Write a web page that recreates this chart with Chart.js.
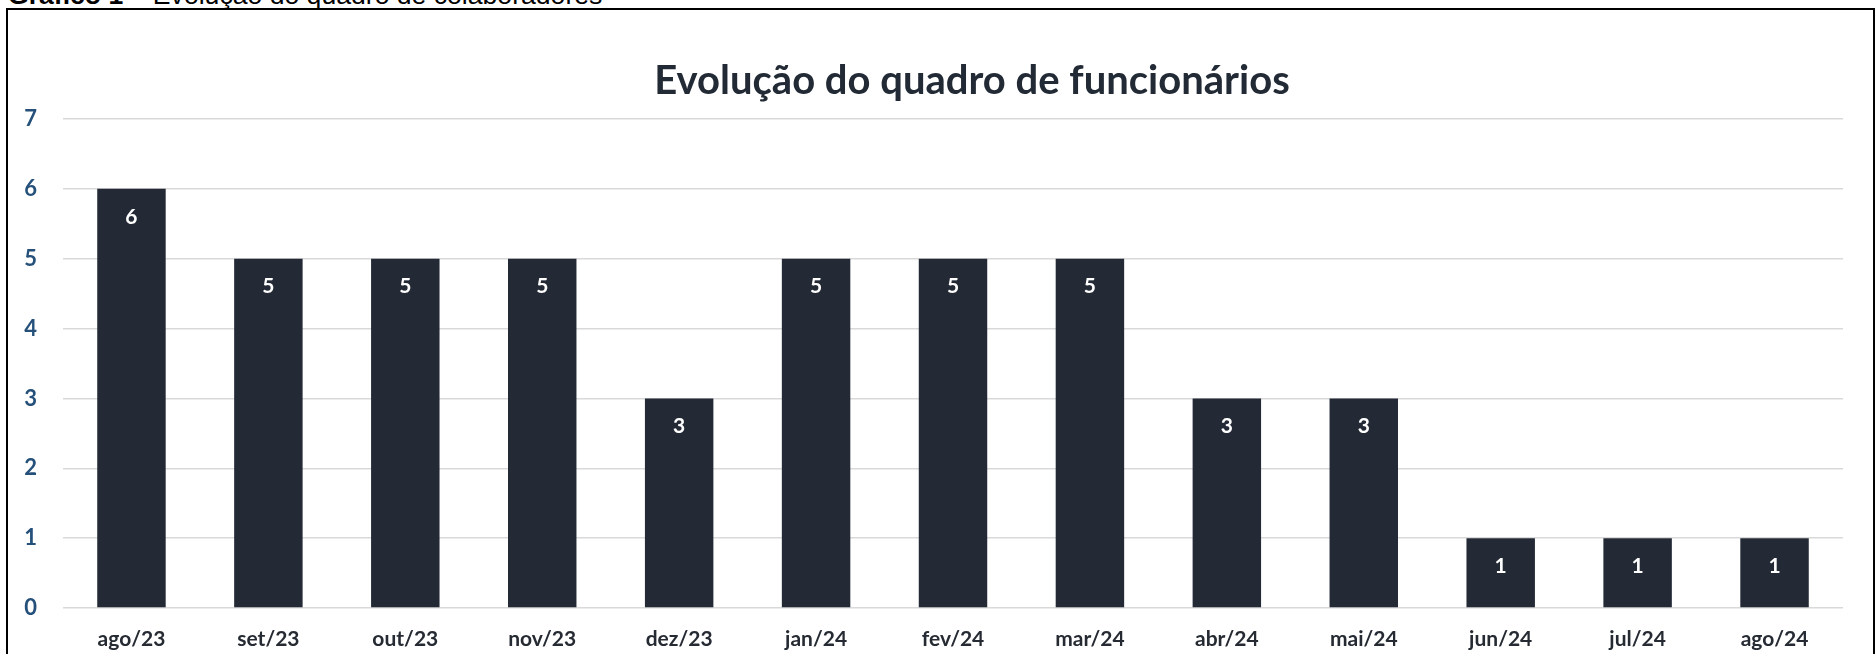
<!DOCTYPE html>
<html lang="pt-BR">
<head>
<meta charset="utf-8">
<title>Evolução do quadro de funcionários</title>
<script src="https://cdn.jsdelivr.net/npm/chart.js@4.4.1/dist/chart.umd.min.js"></script>
<style>
    html, body { margin: 0; padding: 0; background: #fff; overflow: hidden; }
    body { width: 1876px; height: 654px; position: relative; }
    .caption {
        position: absolute; left: 8px; top: -18px;
        font-family: "Liberation Sans", Arial, sans-serif;
        font-size: 26.6px; line-height: 27px; color: #000; white-space: nowrap;
    }
    .caption b { font-weight: bold; }
    .frame {
        position: absolute; left: 6px; top: 8px;
        width: 1865px; height: 700px;
        border: 2px solid #000;
    }
    .chart-wrap {
        position: absolute; left: 9px; top: 11px;
        width: 1864px; height: 643px;
    }
</style>
</head>
<body>
<div class="caption"><b>Gráfico 1</b> – Evolução do quadro de colaboradores</div>
<div class="frame"></div>
<div class="chart-wrap"><canvas id="staff-chart"></canvas></div>

<script>
// chart data
const months = ['ago/23', 'set/23', 'out/23', 'nov/23', 'dez/23', 'jan/24', 'fev/24',
                'mar/24', 'abr/24', 'mai/24', 'jun/24', 'jul/24', 'ago/24'];
const headcount = [6, 5, 5, 5, 3, 5, 5, 5, 3, 3, 1, 1, 1];
const yTicks = [0, 1, 2, 3, 4, 5, 6, 7];

const chartTitle = 'Evolução do quadro de funcionários';
const barColor = '#232a36';

// title sits a bit right of centre in the original, so draw it ourselves
const chartHeading = {
    id: 'chartHeading',
    afterDraw(chart) {
        const ctx = chart.ctx;
        ctx.save();
        ctx.fillStyle = '#222a35';
        ctx.font = 'bold 40px Lato, sans-serif';
        ctx.textAlign = 'center';
        ctx.textBaseline = 'middle';
        ctx.fillText(chartTitle, chart.width / 2 + 31, 70);
        ctx.restore();
    }
};

// writes the value inside the top of each bar
const barValueLabels = {
    id: 'barValueLabels',
    afterDatasetsDraw(chart) {
        const ctx = chart.ctx;
        const meta = chart.getDatasetMeta(0);
        ctx.save();
        ctx.fillStyle = '#ffffff';
        ctx.font = 'bold 21px Lato, sans-serif';
        ctx.textAlign = 'center';
        ctx.textBaseline = 'middle';
        meta.data.forEach((bar, i) => {
            ctx.fillText(String(headcount[i]), bar.x, bar.y + 28);
        });
        ctx.restore();
    }
};

document.addEventListener('DOMContentLoaded', function() {
    const ctx = document.getElementById('staff-chart').getContext('2d');

    new Chart(ctx, {
        type: 'bar',
        data: {
            labels: months,
            datasets: [{
                label: 'Funcionários',
                data: headcount,
                backgroundColor: barColor,
                borderWidth: 0,
                categoryPercentage: 1,
                barPercentage: 0.5
            }]
        },
        options: {
            responsive: true,
            maintainAspectRatio: false,
            animation: false,
            layout: {
                padding: { left: 0, right: 30, top: 108, bottom: 0 }
            },
            plugins: {
                legend: { display: false },
                tooltip: { enabled: false },
                title: { display: false }
            },
            scales: {
                x: {
                    grid: { display: false, drawTicks: false },
                    border: { display: false },
                    ticks: {
                        color: '#262b33',
                        padding: 19,
                        font: { family: 'Lato, sans-serif', size: 21, weight: 'bold' }
                    },
                    afterFit(scale) { scale.height = 46; }
                },
                y: {
                    min: 0,
                    max: yTicks[yTicks.length - 1],
                    afterBuildTicks(scale) {
                        scale.ticks = yTicks.map(v => ({ value: v }));
                    },
                    grid: {
                        color: '#d9d9d9',
                        lineWidth: 1.5,
                        drawTicks: false
                    },
                    border: { display: false },
                    ticks: {
                        color: '#25507a',
                        padding: 26,
                        font: { family: 'Lato, sans-serif', size: 22, weight: 'bold' }
                    },
                    afterFit(scale) { scale.width = 54; }
                }
            }
        },
        plugins: [chartHeading, barValueLabels]
    });
});
</script>
</body>
</html>
